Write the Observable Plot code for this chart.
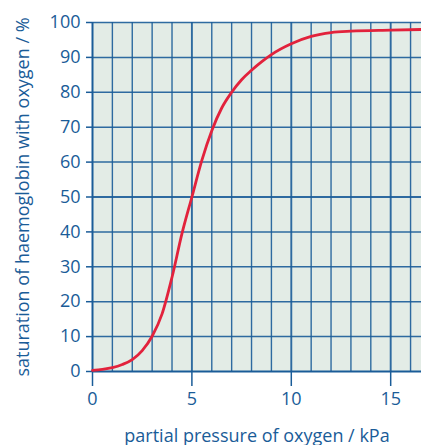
<!DOCTYPE html>
<html><head><meta charset="utf-8">
<script src="https://cdn.jsdelivr.net/npm/d3@7"></script>
<script src="https://cdn.jsdelivr.net/npm/@observablehq/plot@0.6"></script>
<style>body{margin:0;background:#fff;} svg{display:block;}</style>
</head><body><div id="chart"></div>
<script>
const pressure = [0, 0.5, 1, 1.5, 2, 2.5, 3, 3.5, 4, 4.5, 5, 5.5, 6, 6.5, 7, 7.5, 8, 8.5, 9, 10, 11, 12, 13, 15, 16.6];
const saturation = [0.3, 0.6, 1.1, 2, 3.4, 6, 10.1, 16.5, 27, 39.5, 50, 60.5, 69, 75.5, 80, 83.6, 86.3, 88.7, 90.8, 93.9, 96, 97.1, 97.5, 97.8, 98];
const xTicks = [0, 5, 10, 15];
const yTicks = [0, 10, 20, 30, 40, 50, 60, 70, 80, 90, 100];
const xGrid = d3.range(0, 17, 1);

const blue = "#1a5c98";
const data = pressure.map((p, i) => ({p, s: saturation[i]}));

const chart = Plot.plot({
  width: 421, height: 445,
  marginLeft: 92, marginRight: 0, marginTop: 22, marginBottom: 74,
  style: {fontFamily: "Open Sans", fontSize: "18px", color: blue, background: "#fff"},
  x: {domain: [0, 16.55]},
  y: {domain: [0, 100]},
  marks: [
    Plot.frame({fill: "#e3ece6", stroke: null}),
    Plot.ruleX(xGrid.filter(d => d > 0), {stroke: blue, strokeWidth: d => d % 5 === 0 ? 1.9 : 1.4, strokeOpacity: 0.9}),
    Plot.ruleY(yTicks.filter(d => d > 0), {stroke: blue, strokeWidth: d => d === 50 ? 1.9 : 1.5, strokeOpacity: 0.9}),
    Plot.ruleX([0], {stroke: blue, strokeWidth: 2}),
    Plot.ruleY([0], {stroke: blue, strokeWidth: 2}),
    Plot.axisX({ticks: xTicks, tickSize: 15, tickPadding: 6, stroke: blue, strokeWidth: 1.5, fontSize: 18,
      label: "partial pressure of oxygen / kPa", labelAnchor: "center", labelArrow: "none", labelOffset: 70}),
    Plot.axisY({ticks: yTicks, tickSize: 6, tickPadding: 6, stroke: blue, strokeWidth: 1.5, fontSize: 18,
      label: "saturation of haemoglobin with oxygen / %", labelAnchor: "center", labelArrow: "none", labelOffset: 76}),
    Plot.line(data, {x: "p", y: "s", curve: "monotone-x", stroke: "#e2223c", strokeWidth: 2.8})
  ]
});
document.getElementById("chart").appendChild(chart);
</script></body></html>
